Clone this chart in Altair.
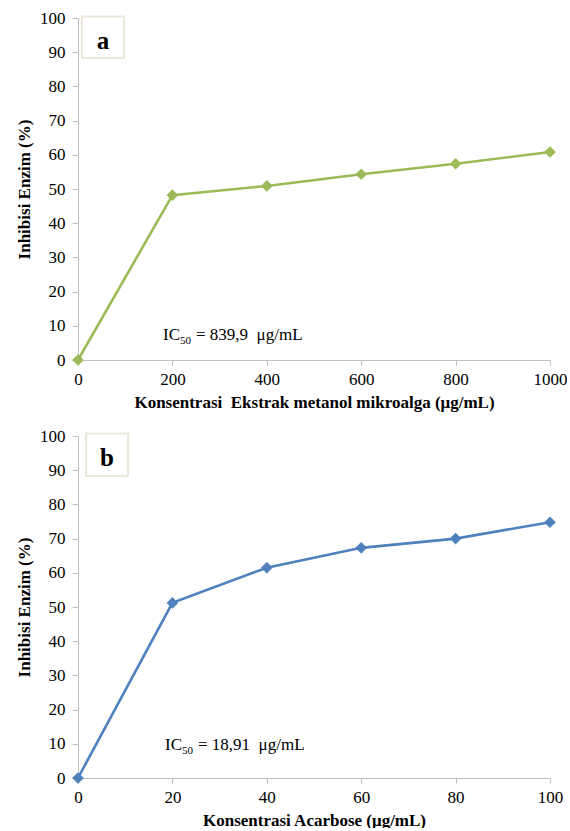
import altair as alt
import pandas as pd

# ---- data ----
conc_a = [0, 200, 400, 600, 800, 1000]
inhib_a = [0, 48.2, 50.9, 54.3, 57.4, 60.8]
conc_b = [0, 20, 40, 60, 80, 100]
inhib_b = [0, 51.2, 61.5, 67.3, 70.0, 74.8]
y_ticks = [0, 10, 20, 30, 40, 50, 60, 70, 80, 90, 100]
x_ticks_a = [0, 200, 400, 600, 800, 1000]
x_ticks_b = [0, 20, 40, 60, 80, 100]
x_title_a = "Konsentrasi\u00a0 Ekstrak metanol mikroalga (μg/mL)"
x_title_b = "Konsentrasi Acarbose (μg/mL)"
y_title = "Inhibisi Enzim (%)"
ic_a = "= 839,9\u00a0 μg/mL"
ic_b = "= 18,91\u00a0 μg/mL"

FONT = "Liberation Serif"
W, H = 472, 342


def axis(values, title, tick, lpad, tpad):
    return alt.Axis(values=values, title=title, format="d", grid=False,
                    labelOverlap=False, labelFlush=False, labelBound=False,
                    tickCount=len(values),
                    labelFont=FONT, labelFontSize=17, labelColor="black",
                    titleFont=FONT, titleFontSize=17, titleFontWeight="bold",
                    titleColor="black", domainColor="#BFBFBF", tickColor="#BFBFBF",
                    tickSize=tick, labelPadding=lpad, titlePadding=tpad)


def panel(xs, ys, xmax, xticks, xtitle, color, letter, ic_text, box, letter_pos, ic_pos):
    df = pd.DataFrame({"conc": xs, "inhib": ys})
    base = alt.Chart(df)
    x = alt.X("conc:Q", scale=alt.Scale(domain=[0, xmax], nice=False, zero=True),
              axis=axis(xticks, xtitle, 5, 6, 7))
    y = alt.Y("inhib:Q", scale=alt.Scale(domain=[0, 100], nice=False),
              axis=axis(y_ticks, y_title, 6, 7, 6))
    line = base.mark_line(color=color, strokeWidth=2.6).encode(x=x, y=y)
    pts = base.mark_point(shape="diamond", filled=True, size=135, color=color,
                          opacity=1).encode(x=x, y=y)
    one = alt.Chart(pd.DataFrame({"k": [0]}))
    bx1, bx2, by1, by2 = box
    rect = one.mark_rect(fill="white", stroke="#ECE9DC", strokeWidth=2).encode(
        x=alt.value(bx1), x2=alt.value(bx2), y=alt.value(by1), y2=alt.value(by2))
    lt = one.mark_text(text=letter, font=FONT, fontSize=25, fontWeight="bold",
                       color="black", align="center", baseline="middle").encode(
        x=alt.value(letter_pos[0]), y=alt.value(letter_pos[1]))
    ix, iy = ic_pos
    t1 = one.mark_text(text="IC", font=FONT, fontSize=17, color="black",
                       align="left", baseline="alphabetic").encode(
        x=alt.value(ix), y=alt.value(iy))
    t2 = one.mark_text(text="50", font=FONT, fontSize=11, color="black",
                       align="left", baseline="alphabetic", dx=17, dy=4).encode(
        x=alt.value(ix), y=alt.value(iy))
    t3 = one.mark_text(text=ic_text, font=FONT, fontSize=17, color="black",
                       align="left", baseline="alphabetic", dx=33).encode(
        x=alt.value(ix), y=alt.value(iy))
    return alt.layer(line, pts, rect, lt, t1, t2, t3).properties(width=W, height=H)


top = panel(conc_a, inhib_a, 1000, x_ticks_a, x_title_a, "#9BBB59", "a", ic_a,
            (4, 46, -1.6, 40), (25, 22.7), (85, 322))
bottom = panel(conc_b, inhib_b, 100, x_ticks_b, x_title_b, "#4F81BD", "b", ic_b,
               (8, 50, -2.4, 40), (29, 21.6), (87, 314))

chart = alt.vconcat(top, bottom, spacing=17).properties(
    padding={"left": 15, "top": 9, "right": 0, "bottom": 0}
).configure(font=FONT).configure_view(stroke=None).configure_axis(
    labelOverlap=False, labelFont=FONT, titleFont=FONT
)

chart.save("out.html", embed_options={"renderer": "svg", "actions": False})
